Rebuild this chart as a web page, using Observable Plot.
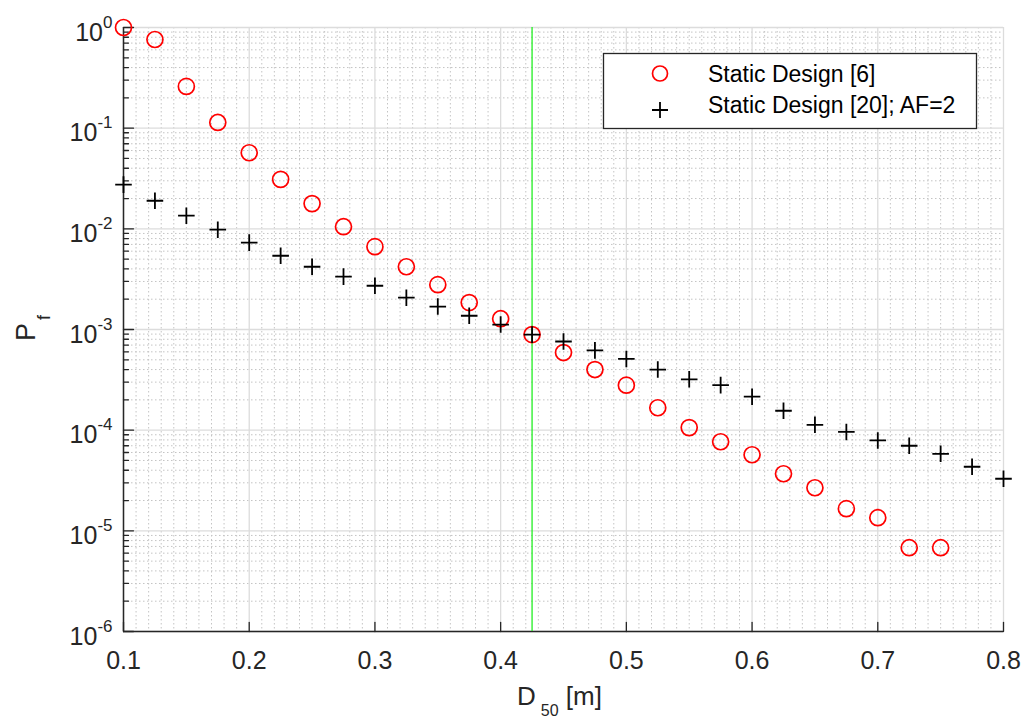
<!DOCTYPE html>
<html>
<head>
<meta charset="utf-8">
<script src="https://cdn.jsdelivr.net/npm/d3@7"></script>
<script src="https://cdn.jsdelivr.net/npm/@observablehq/plot@0.6"></script>
<style>
  body { margin: 0; background: #fff; }
  #chart { position: relative; width: 1025px; height: 719px; }
  svg { font-family: "Liberation Sans", Arial, Helvetica, sans-serif; }
</style>
</head>
<body>
<div id="chart"></div>
<script>
// ---- data ----
const dStatic6 = [0.1,0.125,0.15,0.175,0.2,0.225,0.25,0.275,0.3,0.325,0.35,0.375,0.4,0.425,0.45,0.475,0.5,0.525,0.55,0.575,0.6,0.625,0.65,0.675,0.7,0.725,0.75];
const pfStatic6 = [1.0,0.76,0.26,0.114,0.057,0.031,0.0178,0.0105,0.00665,0.0042,0.00279,0.00185,0.00128,0.00089,0.00059,0.0004,0.00028,0.000167,0.000106,0.0000767,0.000057,0.0000369,0.0000268,0.0000166,0.0000135,0.0000068,0.0000068];
const dStatic20 = [0.1,0.125,0.15,0.175,0.2,0.225,0.25,0.275,0.3,0.325,0.35,0.375,0.4,0.425,0.45,0.475,0.5,0.525,0.55,0.575,0.6,0.625,0.65,0.675,0.7,0.725,0.75,0.775,0.8];
const pfStatic20 = [0.0275,0.019,0.0135,0.0098,0.0073,0.0054,0.0042,0.00335,0.00272,0.00207,0.00169,0.00137,0.00112,0.00089,0.00076,0.00062,0.00051,0.0004,0.00032,0.00028,0.000215,0.000156,0.000113,0.000096,0.000079,0.00007,0.0000582,0.0000433,0.0000329];
const markerLine = 0.425;
const xTicks = [0.1,0.2,0.3,0.4,0.5,0.6,0.7,0.8];
const yTicks = [1e-6,1e-5,1e-4,1e-3,1e-2,1e-1,1];
const yTickLabels = ["10^-6","10^-5","10^-4","10^-3","10^-2","10^-1","10^0"];
const seriesNames = ["Static Design [6]", "Static Design [20]; AF=2"];

// minor grid positions (derived from tick spacing)
const xMinor = d3.range(10, 81).map(i => i / 100).filter(v => Math.round(v * 100) % 10 !== 0);
const yMinor = [];
for (let e = -6; e < 0; e++) for (let m = 2; m <= 9; m++) yMinor.push(m * Math.pow(10, e));

const s6 = dStatic6.map((d, i) => ({d, pf: pfStatic6[i]}));
const s20 = dStatic20.map((d, i) => ({d, pf: pfStatic20[i]}));

const tickShapeUp = {draw(ctx, l) { ctx.moveTo(0, 0); ctx.lineTo(0, -l); }};

const plot = Plot.plot({
  width: 1025,
  height: 719,
  marginLeft: 123,
  marginRight: 22,
  marginTop: 27,
  marginBottom: 88,
  x: {domain: [0.1, 0.8], label: null},
  y: {type: "log", domain: [1e-6, 1], label: null},
  style: {fontFamily: "Liberation Sans, Arial, sans-serif", background: "white"},
  marks: [
    // minor grid
    Plot.ruleX(xMinor, {stroke: "#c4c4c4", strokeWidth: 1, strokeDasharray: "1.5,2.5"}),
    Plot.ruleY(yMinor, {stroke: "#c4c4c4", strokeWidth: 1, strokeDasharray: "1.5,2.5"}),
    // major grid
    Plot.ruleX(xTicks, {stroke: "#dcdcdc", strokeWidth: 1.3}),
    Plot.ruleY(yTicks, {stroke: "#dcdcdc", strokeWidth: 1.3}),
    // axis lines
    Plot.ruleX([0.1], {stroke: "#262626", strokeWidth: 1.5}),
    Plot.ruleY([1e-6], {stroke: "#262626", strokeWidth: 1.5}),
    // inward ticks
    Plot.vector(xTicks, {x: d => d, y: 1e-6, length: 9, anchor: "start", shape: tickShapeUp, stroke: "#262626", strokeWidth: 1.3}),
    Plot.vector(yTicks, {x: 0.1, y: d => d, length: 10, rotate: 90, anchor: "start", shape: tickShapeUp, stroke: "#262626", strokeWidth: 1.3}),
    Plot.vector(yMinor, {x: 0.1, y: d => d, length: 5, rotate: 90, anchor: "start", shape: tickShapeUp, stroke: "#262626", strokeWidth: 1.3}),
    // labels
    Plot.axisX({ticks: xTicks, tickSize: 0, tickPadding: 20, tickFormat: d => d3.format(".1f")(d), fontSize: 25, color: "#262626"}),
    Plot.axisY({ticks: yTicks, tickSize: 0, tickPadding: 11, tickFormat: (d) => yTickLabels[yTicks.indexOf(d)], fontSize: 25, color: "#262626"}),
    // vertical marker line
    Plot.ruleX([markerLine], {stroke: "#22ee22", strokeWidth: 1.3}),
    // data
    Plot.dot(s6, {x: "d", y: "pf", r: 8, stroke: "#ff0000", strokeWidth: 1.7, fill: "none"}),
    Plot.dot(s20, {x: "d", y: "pf", r: 5.4, symbol: "plus", stroke: "#000", strokeWidth: 1.8, fill: "none"})
  ]
});

document.getElementById("chart").appendChild(plot);
const svg = d3.select(plot);

// superscripts on y tick labels
svg.selectAll("g[aria-label='y-axis tick label'] text").each(function() {
  const t = d3.select(this);
  const s = t.text();
  const [base, exp] = s.split("^");
  t.text(null);
  t.append("tspan").attr("dy", "5").text(base);
  t.append("tspan").attr("dy", "-13").attr("font-size", 17).text(exp);
});

// axis titles
svg.append("text")
  .attr("transform", "translate(35,328) rotate(-90)")
  .attr("text-anchor", "middle")
  .attr("font-size", 27).attr("fill", "#262626")
  .call(t => {
    t.append("tspan").text("P");
    t.append("tspan").attr("font-size", 18).attr("dy", "15").attr("dx", "3").text("f");
  });
svg.append("text")
  .attr("x", 517).attr("y", 705)
  .attr("text-anchor", "start")
  .attr("font-size", 26).attr("fill", "#262626")
  .call(t => {
    t.append("tspan").text("D");
    t.append("tspan").attr("font-size", 16).attr("dy", "11").attr("dx", "5").text("50");
    t.append("tspan").attr("dy", "-11").text(" [m]");
  });

// legend
const lg = svg.append("g").attr("font-size", 23).attr("fill", "#000").attr("text-anchor", "start");
lg.append("rect").attr("x", 603.5).attr("y", 53.5).attr("width", 373).attr("height", 75)
  .attr("fill", "white").attr("stroke", "#262626").attr("stroke-width", 1.3);
lg.append("circle").attr("cx", 660).attr("cy", 73.5).attr("r", 7.5).attr("fill", "none").attr("stroke", "#ff0000").attr("stroke-width", 1.7);
lg.append("path").attr("d", "M652,110H668M660,102V118").attr("stroke", "#000").attr("stroke-width", 1.8);
lg.append("text").attr("x", 708).attr("y", 82).attr("text-anchor", "start").text(seriesNames[0]);
lg.append("text").attr("x", 708).attr("y", 113).attr("text-anchor", "start").text(seriesNames[1]);
</script>
</body>
</html>
